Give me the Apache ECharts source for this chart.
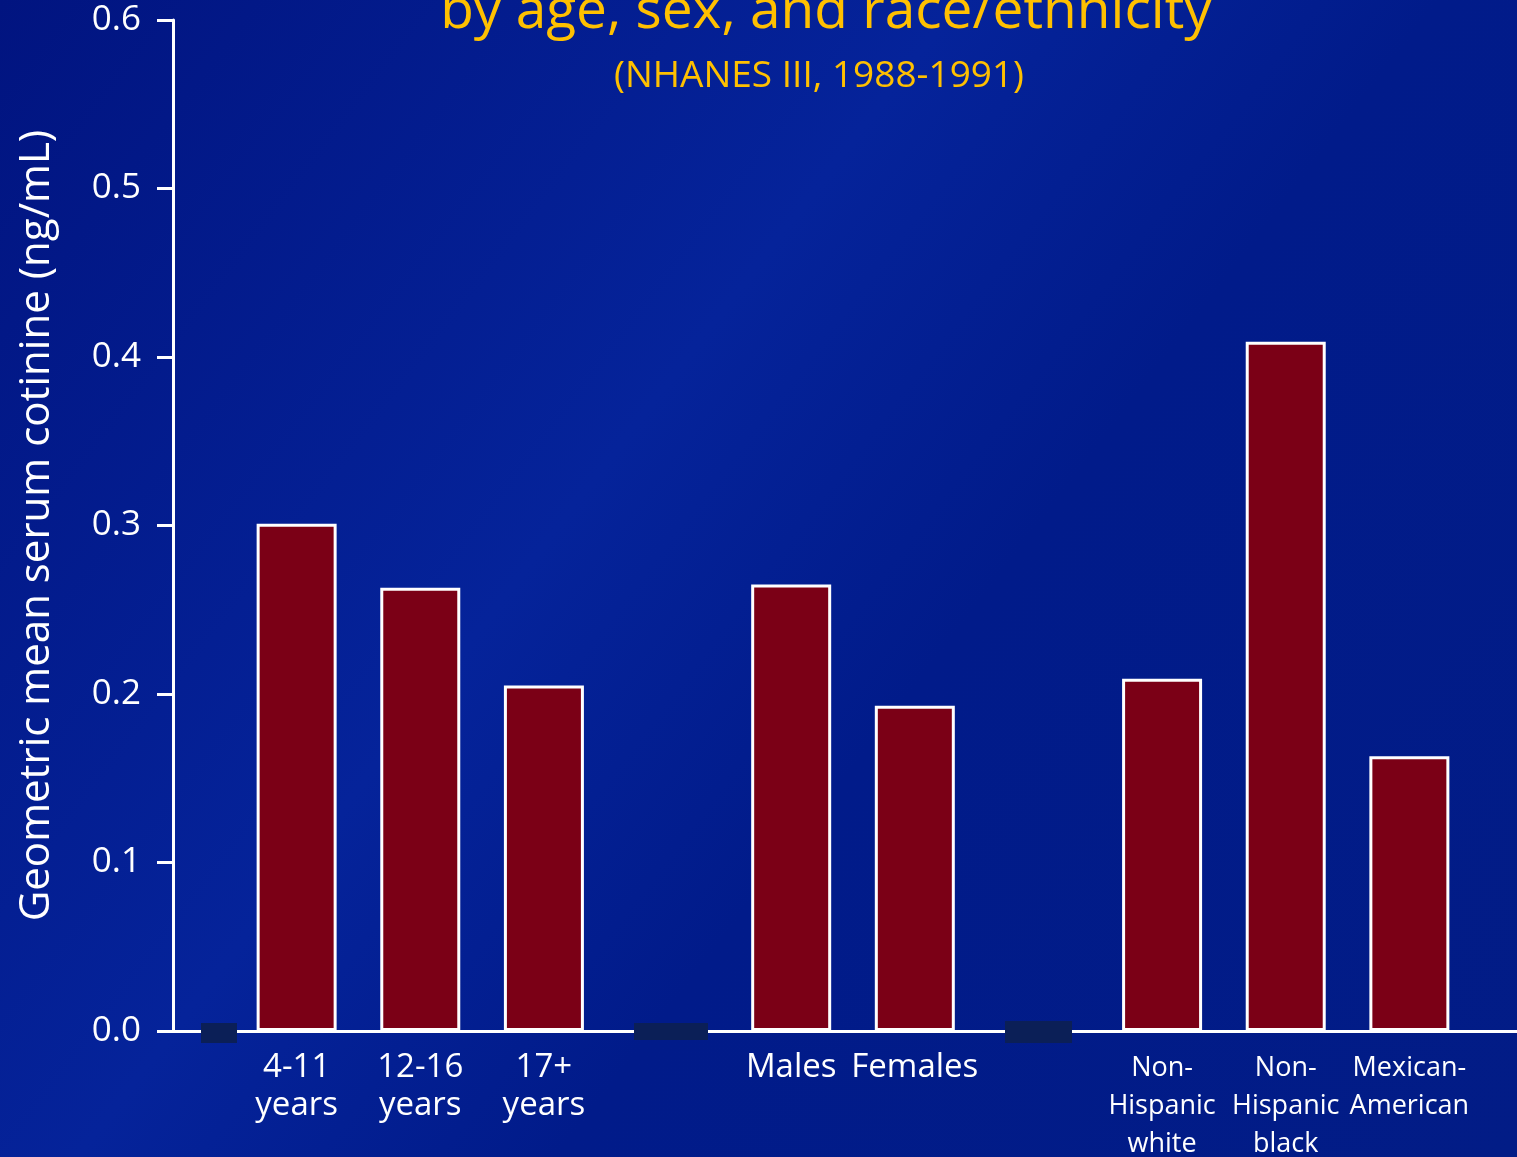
<!DOCTYPE html>
<html>
<head>
<meta charset="utf-8">
<script src="https://cdn.jsdelivr.net/npm/echarts@6/dist/echarts.min.js"></script>
<style>
  html, body { margin: 0; padding: 0; }
  #chart { width: 1517px; height: 1157px; }
</style>
</head>
<body>
<div id="chart"></div>
<script>
// categories (blank slots are the gaps between groups)
var categories = ["", "4-11\nyears", "12-16\nyears", "17+\nyears", "", "Males", "Females", "",
  "Non-\nHispanic\nwhite", "Non-\nHispanic\nblack", "Mexican-\nAmerican", ""];
var smallLabels = ["Non-\nHispanic\nwhite", "Non-\nHispanic\nblack", "Mexican-\nAmerican"];
// geometric mean serum cotinine, ng/mL
var cotinine = ["-", 0.301, 0.263, 0.205, "-", 0.265, 0.193, "-", 0.209, 0.409, 0.163, "-"];
var yTicks = [0, 0.1, 0.2, 0.3, 0.4, 0.5, 0.6];

var white = "#ffffff";
var yellow = "#ffc000";

var chart = echarts.init(document.getElementById("chart"));
chart.setOption({
  backgroundColor: {
    type: "linear", x: 0, y: 0, x2: 1, y2: 1,
    colorStops: [
      { offset: 0, color: "#011480" },
      { offset: 0.4, color: "#05239a" },
      { offset: 0.6, color: "#011b8a" },
      { offset: 1, color: "#021c86" }
    ]
  },
  title: [
    {
      text: "by age, sex, and race/ethnicity",
      left: 821, top: -20, textAlign: "center",
      textStyle: { color: yellow, fontFamily: "Open Sans", fontWeight: "normal", fontSize: 55 }
    },
    {
      text: "(NHANES III, 1988-1991)",
      left: 814, top: 53, textAlign: "center",
      textStyle: { color: yellow, fontFamily: "Open Sans", fontWeight: "normal", fontSize: 37 }
    }
  ],
  grid: { left: 173, right: -16, top: 20, bottom: 126, containLabel: false, outerBoundsMode: "none" },
  xAxis: {
    type: "category",
    boundaryGap: false,
    data: categories.map(function (c) {
      return smallLabels.indexOf(c) >= 0 ? { value: c, textStyle: { fontSize: 27, lineHeight: 38 } } : c;
    }),
    axisLine: { lineStyle: { color: white, width: 3 } },
    axisTick: { show: false },
    axisLabel: {
      interval: 0, color: white, fontFamily: "Open Sans", fontSize: 33, lineHeight: 38, margin: 18
    },
    splitLine: { show: false }
  },
  yAxis: {
    type: "value",
    min: yTicks[0], max: yTicks[yTicks.length - 1], interval: 0.1,
    name: "Geometric mean serum cotinine (ng/mL)",
    nameLocation: "middle", nameRotate: 90, nameGap: 115,
    nameTextStyle: { color: white, fontFamily: "Open Sans", fontSize: 42 },
    axisLine: { show: true, lineStyle: { color: white, width: 3 } },
    axisTick: { show: true, length: 16, lineStyle: { color: white, width: 3 } },
    axisLabel: {
      color: white, fontFamily: "Open Sans", fontSize: 35, margin: 32,
      formatter: function (v) { return v.toFixed(1); }
    },
    splitLine: { show: false }
  },
  series: [{
    type: "bar",
    data: cotinine,
    barWidth: 80,
    itemStyle: { color: "#7b0016", borderColor: white, borderWidth: 3 },
    animation: false
  }],
  graphic: [
    { type: "rect", shape: { x: 201, y: 1023, width: 36, height: 20 }, style: { fill: "#0b1f57" }, z: 100 },
    { type: "rect", shape: { x: 634, y: 1023, width: 74, height: 17 }, style: { fill: "#0b1f57" }, z: 100 },
    { type: "rect", shape: { x: 1005, y: 1021, width: 67, height: 22 }, style: { fill: "#0b1f57" }, z: 100 }
  ]
});
</script>
</body>
</html>
